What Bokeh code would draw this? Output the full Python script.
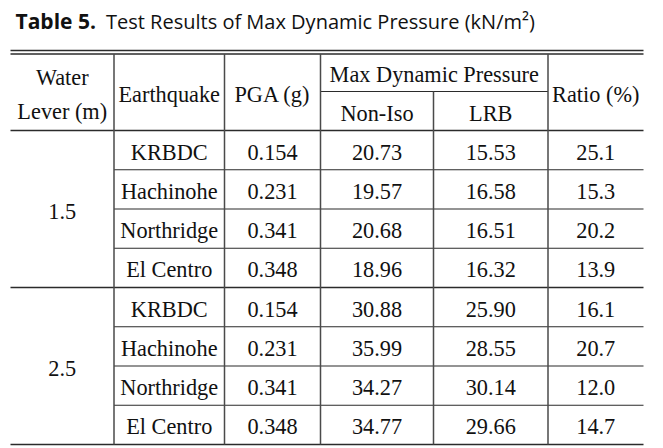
from bokeh.plotting import figure
from bokeh.models import Range1d
from bokeh.core.properties import value
from bokeh.embed import file_html
from bokeh.resources import INLINE

# ---------------- data ----------------
title_bold = "Table 5."
title_rest = "Test Results of Max Dynamic Pressure (kN/m\u00b2)"
water_header = ["Water", "Lever (m)"]
col_headers = ["Earthquake", "PGA (g)", "Ratio (%)"]
group_header = "Max Dynamic Pressure"
sub_headers = ["Non-Iso", "LRB"]
water_levels = [1.5, 2.5]
earthquakes = ["KRBDC", "Hachinohe", "Northridge", "El Centro"]
pga = [0.154, 0.231, 0.341, 0.348, 0.154, 0.231, 0.341, 0.348]
non_iso = [20.73, 19.57, 20.68, 18.96, 30.88, 35.99, 34.27, 34.77]
lrb = [15.53, 16.58, 16.51, 16.32, 25.90, 28.55, 30.14, 29.66]
ratio = [25.1, 15.3, 20.2, 13.9, 16.1, 20.7, 12.0, 14.7]

# ---------------- layout (reference pixel space) ----------------
edges = [10, 113.5, 224, 320, 433, 547.5, 643]
top1, top2 = 50, 53.5
hmid, hbot = 91, 130
row_h = 39.25
n_rows = len(pga)
bottom = hbot + row_h * n_rows
centers = [(edges[i] + edges[i + 1]) / 2 for i in range(len(edges) - 1)]
BL = 9.5 - 7.5  # baseline offset from cell centre (incl. renderer correction)

p = figure(width=663, height=448, output_backend="svg", toolbar_location=None,
           x_range=Range1d(0, 663), y_range=Range1d(448, 0),
           min_border=0, outline_line_color=None)
p.axis.visible = False
p.grid.visible = False
p.background_fill_color = "white"
p.border_fill_color = "white"

LINE = "#2b2b2b"
VLINE = "#4a4a4a"

# horizontal rules
hx0, hy0, hx1, hy1, hw = [], [], [], [], []
def hline(x0, x1, y, w):
    hx0.append(x0); hx1.append(x1); hy0.append(y); hy1.append(y); hw.append(w)

hline(edges[0], edges[-1], top1, 1.6)
hline(edges[0], edges[-1], top2, 1.6)
hline(edges[3], edges[5], hmid, 1.2)
hline(edges[0], edges[-1], hbot, 1.3)
per_group = len(earthquakes)
for k in range(1, n_rows):
    y = hbot + row_h * k
    if k % per_group == 0:
        hline(edges[0], edges[-1], y, 1.3)
    else:
        hline(edges[1], edges[-1], y, 1.1)
hline(edges[0], edges[-1], bottom, 1.6)
p.segment(x0=hx0, y0=hy0, x1=hx1, y1=hy1, line_color=LINE, line_width=hw)

# vertical rules
vx, vy0 = [], []
for i in (1, 2, 3, 5):
    vx.append(edges[i]); vy0.append(top2)
vx.append(edges[4]); vy0.append(hmid)
p.segment(x0=vx, y0=vy0, x1=vx, y1=[bottom] * len(vx), line_color=VLINE, line_width=1.5)

serif = value("Liberation Serif")
FS = "22.3px"
def txt(xs, ys, ts):
    p.text(x=xs, y=ys, text=ts, text_align="center", text_baseline="alphabetic",
           text_font=serif, text_font_size=FS, text_color="#111111")

# title
p.text(x=[15], y=[20.5], text=[title_bold], text_font=value("Open Sans"),
       text_font_style="bold", text_font_size="21px", text_baseline="alphabetic",
       text_color="#111111")
p.text(x=[105.5], y=[20.5], text=[title_rest], text_font=value("Open Sans"),
       text_font_size="20px", text_baseline="alphabetic", text_color="#111111")

# header
hc = (top2 + hbot) / 2
txt([centers[0], centers[0]], [84.5 - 7.5, 118.5 - 7.5], water_header)
txt([centers[1], centers[2], centers[5]], [hc + BL] * 3, col_headers)
txt([(edges[3] + edges[5]) / 2], [(top2 + hmid) / 2 + BL], [group_header])
txt([centers[3], centers[4]], [(hmid + hbot) / 2 + BL] * 2, sub_headers)

# body
row_c = [hbot + row_h * (k + 0.5) for k in range(n_rows)]
grp_c = [hbot + row_h * per_group * (g + 0.5) for g in range(len(water_levels))]
txt([centers[0]] * len(water_levels), [c + BL for c in grp_c], [f"{w:.1f}" for w in water_levels])
eq_rows = earthquakes * len(water_levels)
txt([centers[1]] * n_rows, [c + BL for c in row_c], eq_rows)
txt([centers[2]] * n_rows, [c + BL for c in row_c], [f"{v:.3f}" for v in pga])
txt([centers[3]] * n_rows, [c + BL for c in row_c], [f"{v:.2f}" for v in non_iso])
txt([centers[4]] * n_rows, [c + BL for c in row_c], [f"{v:.2f}" for v in lrb])
txt([centers[5]] * n_rows, [c + BL for c in row_c], [f"{v:.1f}" for v in ratio])

open("out.html", "w").write(file_html(p, INLINE))
